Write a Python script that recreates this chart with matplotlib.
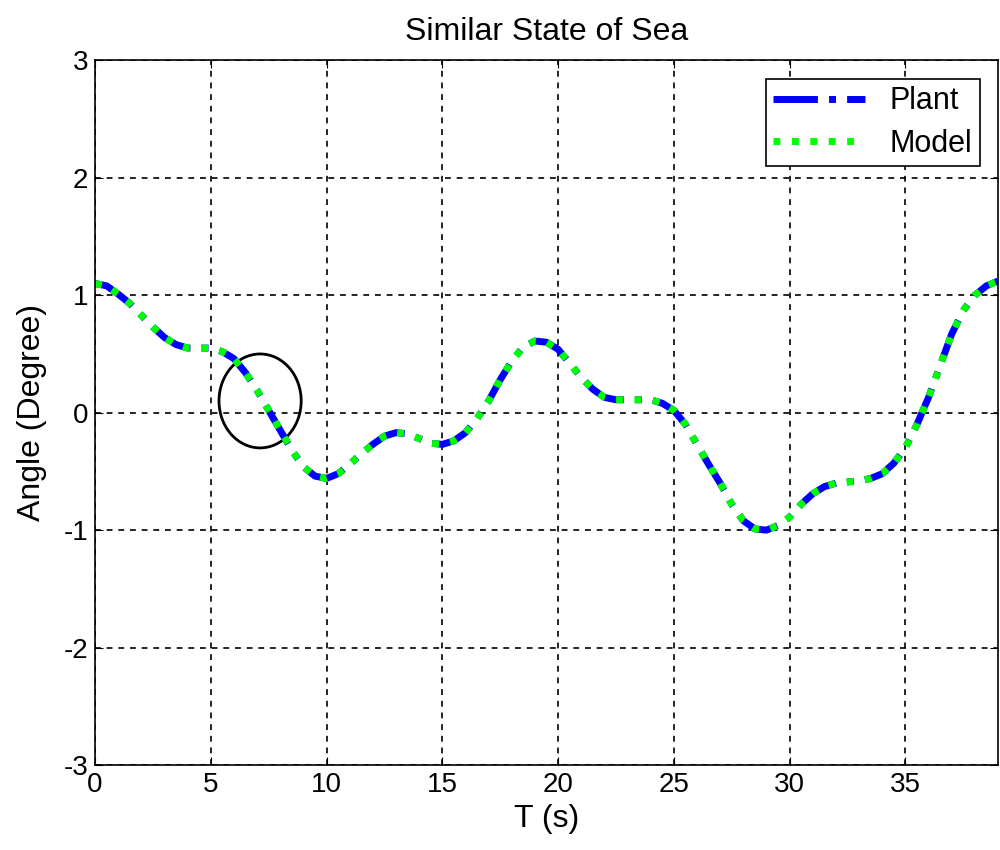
import matplotlib.pyplot as plt
from matplotlib.patches import Ellipse

plt.rcParams['font.family'] = ['Liberation Sans', 'DejaVu Sans']
plt.rcParams['axes.unicode_minus'] = False

# time (s) and angle (degree), every half second
t = [0, 0.5, 1, 1.5, 2, 2.5, 3, 3.5, 4, 4.5, 5, 5.5, 6, 6.5, 7, 7.5, 8, 8.5, 9, 9.5,
     10, 10.5, 11, 11.5, 12, 12.5, 13, 13.5, 14, 14.5, 15, 15.5, 16, 16.5, 17, 17.5,
     18, 18.5, 19, 19.5, 20, 20.5, 21, 21.5, 22, 22.5, 23, 23.5, 24, 24.5, 25, 25.5,
     26, 26.5, 27, 27.5, 28, 28.5, 29, 29.5, 30, 30.5, 31, 31.5, 32, 32.5, 33, 33.5,
     34, 34.5, 35, 35.5, 36, 36.5, 37, 37.5, 38, 38.5, 39]
plant = [1.10, 1.08, 1.01, 0.93, 0.83, 0.73, 0.64, 0.58, 0.55, 0.55, 0.55, 0.52,
         0.46, 0.34, 0.19, 0.02, -0.15, -0.32, -0.46, -0.54, -0.56, -0.52, -0.44,
         -0.35, -0.27, -0.20, -0.17, -0.18, -0.22, -0.26, -0.27, -0.24, -0.17, -0.05,
         0.10, 0.28, 0.44, 0.56, 0.61, 0.60, 0.54, 0.42, 0.30, 0.20, 0.13, 0.11, 0.11,
         0.11, 0.11, 0.08, 0.02, -0.10, -0.27, -0.44, -0.60, -0.78, -0.92, -0.99,
         -1.00, -0.96, -0.89, -0.78, -0.69, -0.63, -0.60, -0.59, -0.58, -0.56, -0.52,
         -0.43, -0.30, -0.10, 0.13, 0.40, 0.67, 0.87, 1.00, 1.08, 1.12]
model = list(plant)

x_ticks = [0, 5, 10, 15, 20, 25, 30, 35]
y_ticks = [-3, -2, -1, 0, 1, 2, 3]

fig = plt.figure(figsize=(10, 8.5), dpi=100)
ax = fig.add_axes([0.095, 0.1, 0.903, 0.829])

ax.plot(t, plant, color='#0000ff', linestyle='-.', linewidth=5, label='Plant')
ax.plot(t, model, color='#00ff00', linestyle=':', linewidth=5, label='Model')

# circle around the highlighted region
ax.add_patch(Ellipse((7.13, 0.10), 3.55, 0.80, fill=False, edgecolor='black', linewidth=2))

ax.set_xlim(0, 39)
ax.set_ylim(-3, 3)
ax.set_xticks(x_ticks)
ax.set_yticks(y_ticks)
ax.tick_params(direction='in', top=True, right=True, labelsize=20, length=6, pad=5)
ax.grid(True, color='black', linestyle=(0, (3.5, 3.5)), linewidth=1.2)
for s in ax.spines.values():
    s.set_linewidth(1.2)

ax.set_title('Similar State of Sea', fontsize=23, pad=15)
ax.set_xlabel('T (s)', fontsize=23, labelpad=4)
ax.set_ylabel('Angle (Degree)', fontsize=23, labelpad=12)

leg = ax.legend(loc='upper right', fontsize=22, fancybox=False, framealpha=1,
                edgecolor='black', handlelength=3.0, borderaxespad=0.6,
                labelspacing=0.4, borderpad=0.25)
leg.get_frame().set_linewidth(1.2)

fig.savefig('out.png')
